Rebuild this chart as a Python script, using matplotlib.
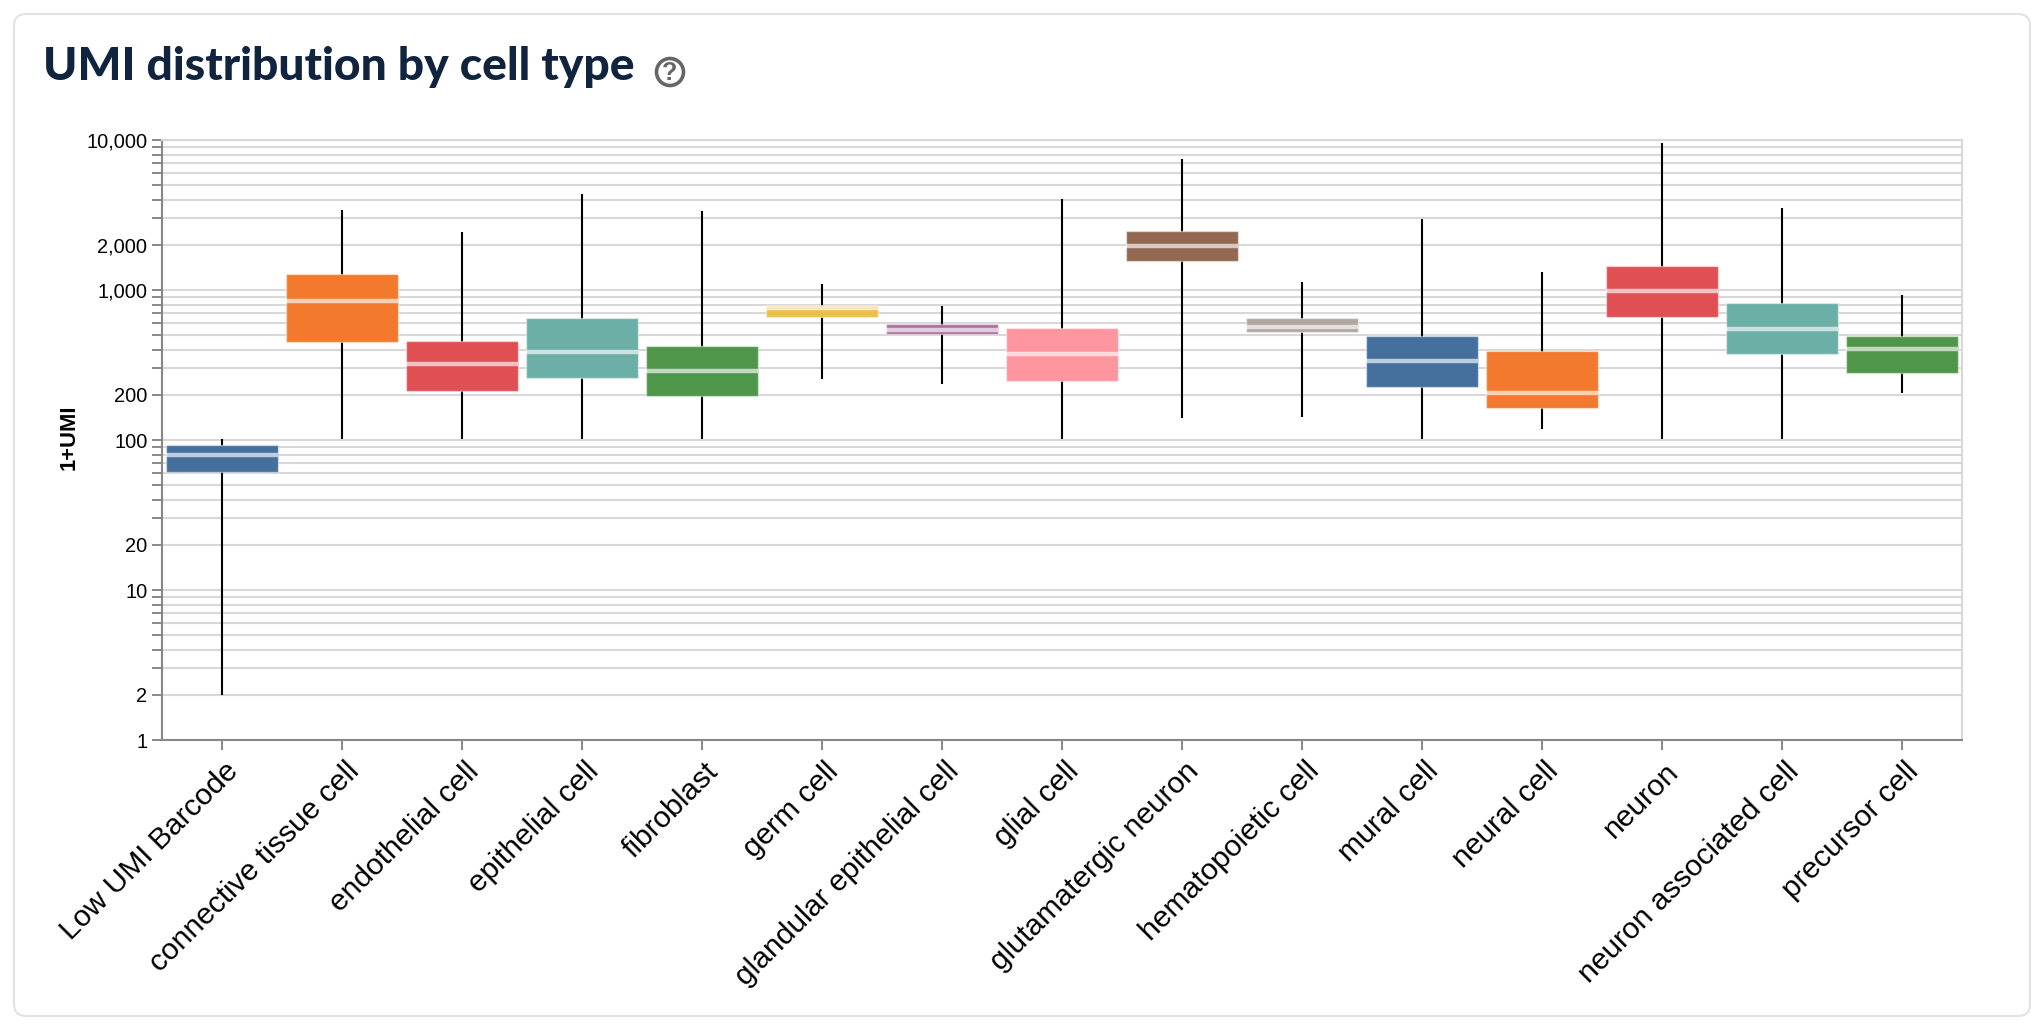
import matplotlib
matplotlib.use("Agg")
import matplotlib.pyplot as plt
from matplotlib.patches import Circle, FancyBboxPatch, Rectangle
from matplotlib.ticker import FixedLocator, FixedFormatter, NullFormatter
from matplotlib.transforms import ScaledTranslation

W, H = 2038, 1024

cell_types = [
    "Low UMI Barcode", "connective tissue cell", "endothelial cell", "epithelial cell",
    "fibroblast", "germ cell", "glandular epithelial cell", "glial cell",
    "glutamatergic neuron", "hematopoietic cell", "mural cell", "neural cell",
    "neuron", "neuron associated cell", "precursor cell",
]
q1 = [61, 448, 213, 258, 197, 664, 509, 249, 1552, 522, 225, 164, 664, 373, 281]
median = [80, 849, 321, 386, 287, 755, 538, 374, 1954, 564, 336, 207, 985, 547, 404]
q3 = [93, 1279, 459, 650, 423, 794, 593, 558, 2460, 647, 491, 392, 1437, 815, 496]
low = [2, 102, 102, 102, 102, 254, 236, 102, 140, 143, 102, 119, 102, 102, 206]
high = [102, 3415, 2435, 4345, 3362, 1096, 778, 4045, 7470, 1125, 2974, 1318, 9506, 3540, 927]
colors = [
    "#45709d", "#f2792e", "#df4f54", "#6bafa7", "#4f964a", "#ecbf47", "#a8719b", "#ff959f",
    "#926852", "#b1a69f", "#45709d", "#f2792e", "#df4f54", "#6bafa7", "#4f964a",
]

major_ticks = [1, 2, 10, 20, 100, 200, 1000, 2000, 10000]
major_labels = ["1", "2", "10", "20", "100", "200", "1,000", "2,000", "10,000"]
all_ticks = [m * 10 ** d for d in range(4) for m in range(1, 10)] + [10000]

plt.rcParams["font.family"] = ["Liberation Sans", "DejaVu Sans"]

fig = plt.figure(figsize=(W / 100, H / 100), dpi=100, facecolor="white")

# card behind the chart
bg = fig.add_axes([0, 0, 1, 1], zorder=0)
bg.set_xlim(0, W)
bg.set_ylim(H, 0)
bg.axis("off")
bg.add_patch(FancyBboxPatch((14, 14), 2016, 1002, boxstyle="round,pad=0,rounding_size=12",
                            fc="white", ec="#e2e2e2", lw=1.5))
bg.text(43, 67, "UMI distribution by cell type", family="Lato", weight="black",
        fontsize=33.3, color="#10243f", va="center", ha="left")
bg.add_patch(Circle((670, 72), 13.5, fc="white", ec="#666666", lw=2.6))
bg.text(670, 72.5, "?", fontsize=18, weight="bold", color="#666666", ha="center", va="center")

ax = fig.add_axes([162 / W, 1 - 740 / H, 1800 / W, 600 / H], zorder=1)
ax.patch.set_alpha(0)
ax.set_yscale("log")
ax.set_ylim(1, 10000)
ax.set_xlim(-0.5, 14.5)

ax.yaxis.set_major_locator(FixedLocator(all_ticks))
ax.yaxis.set_major_formatter(FixedFormatter(
    [major_labels[major_ticks.index(t)] if t in major_ticks else "" for t in all_ticks]))
ax.yaxis.set_minor_formatter(NullFormatter())
ax.tick_params(axis="y", which="minor", left=False)
ax.tick_params(axis="y", length=7.5, width=1.4, color="#888888", labelsize=14.4, pad=3)
ax.grid(axis="y", color="#d8d8d8", lw=1.5, zorder=0)
ax.set_axisbelow(True)

ax.set_xticks(range(len(cell_types)))
ax.set_xticklabels(cell_types, rotation=45, ha="right", va="top", rotation_mode="anchor", fontsize=21.6)
ax.tick_params(axis="x", length=7.5, width=1.4, color="#888888", pad=4)
# nudge the rotated labels a little to the right
nudge = ScaledTranslation(2.5 / 100, -1 / 100, fig.dpi_scale_trans)
for lab in ax.get_xticklabels():
    lab.set_transform(lab.get_transform() + nudge)

for name in ["left", "bottom"]:
    ax.spines[name].set_color("#888888")
    ax.spines[name].set_linewidth(1.5)
for name in ["top", "right"]:
    ax.spines[name].set_color("#d8d8d8")
    ax.spines[name].set_linewidth(1.5)

box_w = 0.94
for i in range(len(cell_types)):
    ax.plot([i, i], [low[i], high[i]], color="black", lw=1.5, solid_capstyle="butt", zorder=2)
    ax.add_patch(Rectangle((i - box_w / 2, q1[i]), box_w, q3[i] - q1[i], fc=colors[i],
                           ec=(1, 1, 1, 0.45), lw=1.0, zorder=3))
    ax.plot([i - box_w / 2, i + box_w / 2], [median[i], median[i]], color="white", alpha=0.65,
            lw=3.2, solid_capstyle="butt", zorder=4)

bg.text(69, 437, "1+UMI", fontsize=15.8, weight="bold", rotation=90, ha="center", va="center")

fig.savefig("out.png", dpi=100, facecolor="white")
